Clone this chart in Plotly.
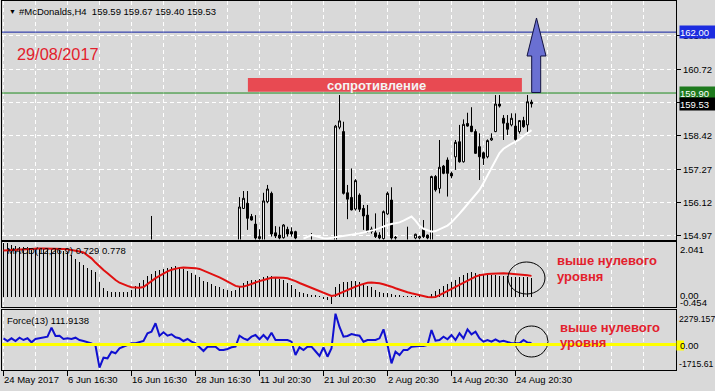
import plotly.graph_objects as go

# ---------------- data ----------------
N_BARS = 133
BAR_IDX = list(range(N_BARS))

TICK_IDX = [0, 16, 32, 48, 64, 80, 96, 112, 128]
TICK_TEXT = ["24 May 2017", "6 Jun 16:30", "16 Jun 16:30", "28 Jun 16:30", "11 Jul 20:30",
             "21 Jul 20:30", "2 Aug 20:30", "14 Aug 20:30", "24 Aug 20:30"]
GRID_IDX = [8, 24, 40, 56, 72, 88, 104, 120, 136, 144, 152, 160, 168]

PRICE_LEVELS = [154.97, 156.12, 157.27, 158.42, 159.57, 160.72, 161.87]
PRICE_LABELS = ["154.97", "156.12", "157.27", "158.42", "", "160.72", "161.87"]

# candles that reach into the visible price window
CANDLE_IDX = [37] + list(range(59, 74)) + [77] + list(range(83, 99)) + [101] + list(range(103, 133))
OPEN = [154.60,
        154.70, 155.92, 156.10, 155.64, 155.38, 154.88, 154.70, 156.15, 156.44, 155.08, 155.00, 154.91, 155.20, 155.12, 155.12,
        154.70,
        154.50, 158.72, 158.57, 156.46, 156.30, 155.90, 156.38, 155.92, 155.69, 155.12, 155.08, 155.00, 154.88, 155.73, 156.21, 154.90,
        154.60,
        154.90, 154.90, 155.20, 155.00, 154.60, 157.02, 156.61, 157.38, 157.59, 157.13, 157.70, 158.22, 157.53, 158.85, 158.76,
        158.57, 158.05, 157.84, 157.70, 158.28, 158.57, 159.52, 159.03, 158.86, 158.80, 158.76, 158.57, 158.95, 158.80, 159.59]
HIGH = [155.66,
        156.31, 156.52, 156.52, 155.73, 155.69, 155.20, 156.46, 156.73, 156.50, 155.31, 155.29, 155.38, 155.29, 155.27, 155.15,
        155.07,
        158.80, 159.83, 158.91, 156.73, 157.30, 156.93, 156.44, 156.04, 156.04, 155.29, 155.75, 155.10, 155.85, 156.50, 156.65, 154.97,
        155.29,
        155.05, 154.98, 155.52, 155.02, 157.05, 157.07, 158.28, 157.42, 157.68, 157.19, 158.28, 158.80, 158.99, 159.22, 159.41,
        158.65, 158.51, 157.88, 158.30, 158.51, 159.83, 159.83, 159.14, 159.14, 159.20, 159.20, 158.97, 159.08, 159.83, 159.67]
LOW = [154.40,
       154.60, 155.90, 155.18, 155.50, 154.80, 154.80, 154.60, 156.10, 154.95, 154.90, 154.85, 154.88, 154.95, 154.95, 154.85,
       154.50,
       154.40, 158.65, 156.40, 155.55, 155.85, 155.85, 155.80, 155.18, 155.08, 155.05, 154.90, 154.85, 154.80, 155.70, 154.80, 154.80,
       154.50,
       154.85, 154.85, 154.90, 154.85, 154.50, 156.50, 156.44, 157.10, 156.33, 156.96, 157.25, 157.50, 157.50, 158.74, 158.55,
       157.80, 156.90, 157.42, 157.65, 158.25, 158.55, 159.40, 158.28, 158.45, 158.75, 158.22, 158.50, 158.70, 158.51, 159.40]
CLOSE = [154.70,
         155.97, 156.27, 155.58, 155.52, 154.90, 154.95, 156.18, 156.59, 155.04, 154.97, 154.90, 155.35, 155.04, 155.04, 154.90,
         154.60,
         158.76, 158.94, 156.44, 156.24, 155.87, 156.88, 155.89, 155.66, 155.12, 155.21, 154.95, 154.90, 155.81, 156.44, 154.90, 154.92,
         154.70,
         155.03, 154.95, 154.95, 154.90, 157.02, 156.56, 157.34, 157.13, 157.13, 157.04, 158.20, 157.53, 158.82, 158.76, 158.57,
         157.82, 157.70, 157.65, 158.26, 158.34, 159.52, 159.45, 158.86, 158.65, 159.03, 158.30, 158.95, 158.74, 159.60, 159.53]

# white moving average (visible part only)
MA = [None] * 75 + [
    154.88, 154.95, 155.00, 154.97, 154.92, 154.89, 154.88, 154.90, 154.93, 154.95,
    154.97, 154.99, 155.01, 155.03, 155.06, 155.09, 155.12, 155.15, 155.19, 155.24,
    155.30, 155.35, 155.38, 155.41, 155.44, 155.50, 155.57, 155.64, 155.50, 155.32,
    155.22, 155.16, 155.12, 155.14, 155.20, 155.26, 155.33, 155.44, 155.58, 155.74,
    155.90, 156.06, 156.22, 156.38, 156.56, 156.80, 157.06, 157.32, 157.62, 157.83,
    157.98, 158.08, 158.15, 158.22, 158.30, 158.42, 158.52, 158.62]

MACD_MAIN = [
    2.041, 2.02, 1.98, 1.94, 1.90, 1.88, 1.87, 1.86, 1.86, 1.85,
    1.84, 1.83, 1.86, 1.84, 1.80, 1.75, 1.68, 1.58, 1.45, 1.31,
    1.20, 1.10, 1.00, 0.94, 0.55, 0.35, 0.24, 0.20, 0.18, 0.17,
    0.18, 0.20, 0.28, 0.40, 0.52, 0.64, 0.78, 0.88, 0.98, 1.03,
    1.07, 1.11, 1.14, 1.16, 1.13, 1.05, 0.98, 0.91, 0.83, 0.75,
    0.62, 0.56, 0.50, 0.43, 0.36, 0.31, 0.27, 0.22, 0.25, 0.40,
    0.52, 0.60, 0.63, 0.66, 0.69, 0.76, 0.81, 0.80, 0.74, 0.69,
    0.64, 0.52, 0.45, 0.32, 0.20, 0.14, 0.10, 0.08, 0.06, 0.02,
    -0.05, -0.13, -0.28, 0.37, 0.50, 0.56, 0.58, 0.60, 0.60, 0.57,
    0.52, 0.42, 0.36, 0.27, 0.20, 0.15, 0.14, 0.10, 0.07, 0.05,
    0.03, 0.02, 0.02, 0.01, 0.01, 0.01, 0.02, 0.12, 0.22, 0.32,
    0.42, 0.50, 0.58, 0.66, 0.75, 0.84, 0.90, 0.93, 0.90, 0.87,
    0.86, 0.85, 0.83, 0.83, 0.81, 0.80, 0.78, 0.77, 0.76, 0.75,
    0.74, 0.74, 0.729]
MACD_SIGNAL = [
    1.74, 1.75, 1.76, 1.77, 1.78, 1.79, 1.80, 1.81, 1.81, 1.81,
    1.81, 1.81, 1.81, 1.81, 1.80, 1.79, 1.78, 1.76, 1.73, 1.70,
    1.66, 1.56, 1.44, 1.28, 1.12, 1.00, 0.88, 0.74, 0.62, 0.52,
    0.45, 0.40, 0.35, 0.33, 0.33, 0.36, 0.48, 0.58, 0.69, 0.78,
    0.88, 0.95, 1.01, 1.05, 1.08, 1.09, 1.09, 1.08, 1.07, 1.04,
    0.98, 0.93, 0.87, 0.80, 0.72, 0.65, 0.57, 0.47, 0.40, 0.37,
    0.38, 0.42, 0.48, 0.53, 0.58, 0.62, 0.67, 0.71, 0.72, 0.72,
    0.71, 0.69, 0.64, 0.58, 0.51, 0.45, 0.39, 0.33, 0.27, 0.21,
    0.14, 0.08, 0.02, 0.05, 0.12, 0.18, 0.24, 0.30, 0.37, 0.43,
    0.48, 0.52, 0.53, 0.52, 0.50, 0.46, 0.42, 0.37, 0.31, 0.25,
    0.20, 0.16, 0.12, 0.08, 0.05, 0.01, -0.02, -0.03, -0.02, 0.05,
    0.13, 0.20, 0.28, 0.35, 0.43, 0.52, 0.61, 0.69, 0.75, 0.80,
    0.83, 0.85, 0.86, 0.87, 0.88, 0.88, 0.87, 0.86, 0.85, 0.83,
    0.81, 0.80, 0.778]

FORCE = [
    459, 259, 459, 259, 503, 333, 459, 163, 407, 459,
    530, 577, 1243, 629, 651, 407, 459, 407, 503, 333,
    259, 163, 89, -89, -1715.61, -975, -1021, -533, -651, -281,
    -163, -37, 89, 89, 163, 259, 829, 947, 1569, 651,
    903, 651, 755, 530, 459, 259, 407, 210, 89, -163,
    -481, -163, -163, -163, -407, -407, -330, -210, -163, 651,
    459, 333, 577, 703, 385, 703, 385, 873, 333, 333,
    333, 333, 207, -777, -207, -407, -163, -163, -500, -851,
    -207, -903, -281, 2279.157, 1300, 577, 629, 777, 703, 651,
    207, 333, 333, 333, 459, 1125, -37, -1391, -533, -777,
    -407, -407, -163, -111, -111, -111, -37, 1073, 281, 333,
    577, 385, 703, 333, 829, 459, 1125, 755, 947, 459,
    207, 333, 207, 385, 207, 281, 207, 89, 89, 89,
    333, 140, 111.9138]

# drawn objects (in chart coordinates)
RESIST_LEVEL = 159.90
TARGET_LEVEL = 162.00
LAST_PRICE = 159.53
RESIST_BOX_X = (61.1, 129.6)
RESIST_BOX_Y = (159.94, 160.42)

# ---------------- style ----------------
BG = "#d9d9d9"
FONT = "Liberation Sans, Arial, sans-serif"
RED_TXT = "#e3202c"
GRID = dict(showgrid=True, gridcolor="white", gridwidth=1, griddash="4px,3px")

W, H = 715, 391
ML, MR, MT, MB = 2, 39, 1, 21
PW, PH = W - ML - MR, H - MT - MB


def PX(x):
    return (x - ML) / PW


def PY(y):
    return (H - MB - y) / PH


fig = go.Figure()

fig.add_trace(go.Candlestick(
    x=CANDLE_IDX, open=OPEN, high=HIGH, low=LOW, close=CLOSE,
    xaxis="x", yaxis="y", whiskerwidth=0, hoverinfo="skip",
    increasing=dict(line=dict(color="black", width=1), fillcolor="white"),
    decreasing=dict(line=dict(color="black", width=1), fillcolor="black")))
fig.add_trace(go.Scatter(x=BAR_IDX, y=MA, mode="lines", xaxis="x", yaxis="y",
                         line=dict(color="white", width=2), hoverinfo="skip"))
fig.add_trace(go.Bar(x=BAR_IDX, y=MACD_MAIN, width=0.25, xaxis="x2", yaxis="y2",
                     marker=dict(color="black", line=dict(width=0)), hoverinfo="skip"))
fig.add_trace(go.Scatter(x=BAR_IDX, y=MACD_SIGNAL, mode="lines", xaxis="x2", yaxis="y2",
                         line=dict(color="#e01010", width=2), hoverinfo="skip"))
fig.add_trace(go.Scatter(x=BAR_IDX, y=FORCE, mode="lines", xaxis="x3", yaxis="y3",
                         line=dict(color="#1010d0", width=2), hoverinfo="skip"))

XR = [-0.375, 168.125]


def xaxis(anchor, ticks=""):
    return dict(range=XR, anchor=anchor, domain=[0, 1], showline=True, linecolor="black", linewidth=1,
                mirror=True, tickmode="array", tickvals=TICK_IDX, showticklabels=False, ticks=ticks,
                ticklen=5, tickcolor="black", zeroline=False, fixedrange=True,
                minor=dict(tickmode="array", tickvals=GRID_IDX, ticks="", **GRID), **GRID)


def yaxis(anchor, dom, rng):
    return dict(anchor=anchor, domain=dom, range=rng, showline=True, linecolor="black", linewidth=1,
                mirror=True, showgrid=False, zeroline=False, showticklabels=False, ticks="", fixedrange=True)


main_dom = [PY(239.5), 1]
macd_dom = [PY(306.7), PY(241.5)]
force_dom = [0, PY(310)]

ya = yaxis("x", main_dom, [154.849, 163.073])
ya.update(side="right", tickmode="array", tickvals=PRICE_LEVELS,
          ticktext=PRICE_LABELS, showticklabels=True, ticks="outside",
          ticklen=4, tickcolor="black", tickfont=dict(family=FONT, size=9.5, color="black"), **GRID)

fig.update_layout(
    width=W, height=H, margin=dict(l=ML, r=MR, t=MT, b=MB, pad=0),
    paper_bgcolor=BG, plot_bgcolor=BG, showlegend=False, bargap=0,
    xaxis=dict(xaxis("y"), rangeslider=dict(visible=False)),
    xaxis2=xaxis("y2"),
    xaxis3=xaxis("y3", ticks="outside"),
    yaxis=ya,
    yaxis2=yaxis("x2", macd_dom, [-0.385, 2.075]),
    yaxis3=yaxis("x3", force_dom, [-1887, 2553]),
)


def txt(x, y, s, size=9.5, color="black", xanchor="left", **kw):
    return dict(x=PX(x), y=PY(y), xref="paper", yref="paper", text=s, showarrow=False,
                xanchor=xanchor, yanchor="middle", font=dict(family=FONT, size=size, color=color), **kw)


ann = []
ann.append(txt(7, 11, "▼", size=7))
ann.append(txt(17, 11.5, "#McDonalds,H4\u00a0 159.59 159.67 159.40 159.53"))
ann.append(txt(14.5, 54, "29/08/2017", size=16.3, color=RED_TXT))
ann.append(txt(376.7, 85.3, "<b>сопротивление</b>", size=13, color="#f4f4f4", xanchor="center"))
ann.append(txt(5, 250, "MACD(12,26,9) 0.729 0.778"))
ann.append(txt(5, 320.5, "Force(13) 111.9138"))
ann.append(txt(555, 260.5, "<b>выше нулевого</b>", size=13, color=RED_TXT))
ann.append(txt(555, 276.5, "<b>уровня</b>", size=13, color=RED_TXT))
ann.append(txt(558, 327, "<b>выше нулевого</b>", size=13, color=RED_TXT))
ann.append(txt(558, 342.5, "<b>уровня</b>", size=13, color=RED_TXT))
# right axis labels of indicator windows
ann.append(txt(678, 249, "2.041"))
ann.append(txt(678, 295.5, "0.00"))
ann.append(txt(678, 302.5, "-0.454"))
ann.append(txt(676.5, 318.5, "2279.157", size=8.7))
ann.append(txt(678, 345.5, "0.00"))
ann.append(txt(676.5, 364, "-1715.61", size=8.7))
# price boxes on the right scale
for level, bg in [(TARGET_LEVEL, "#1c2ce0"), (RESIST_LEVEL, "#1e7a1e"), (LAST_PRICE, "#000000")]:
    ann.append(dict(x=PX(678.5), xref="paper", y=level, yref="y", text="%.2f" % level, showarrow=False,
                    xanchor="left", yanchor="middle", width=35, height=12, align="left", borderpad=0,
                    bgcolor=bg, font=dict(family=FONT, size=9.5, color="white")))
# time labels
for i, s in zip(TICK_IDX, TICK_TEXT):
    ann.append(dict(x=i, xref="x3", y=PY(379.5), yref="paper", text=s, showarrow=False,
                    xanchor="left", yanchor="middle", xshift=-2,
                    font=dict(family=FONT, size=9.5, color="black")))

fig.update_layout(annotations=ann)


def px2i(x):
    return (x - 3.5) / 4.0


def py2p(y):
    return 154.97 + (236 - y) / 29.0


arrow_pts = [(531.7, 92.5), (531.7, 56), (527, 56), (536.5, 18), (546, 56), (540.7, 56), (540.7, 92.5)]
arrow_path = "M " + " L ".join("%.3f,%.4f" % (px2i(x), py2p(y)) for x, y in arrow_pts) + " Z"

shapes = [
    dict(type="line", xref="paper", x0=0, x1=1, yref="y", y0=TARGET_LEVEL, y1=TARGET_LEVEL,
         line=dict(color="#1020a0", width=1), layer="above"),
    dict(type="line", xref="paper", x0=0, x1=1, yref="y", y0=RESIST_LEVEL, y1=RESIST_LEVEL,
         line=dict(color="#1e8a1e", width=1), layer="above"),
    dict(type="rect", xref="x", yref="y", x0=RESIST_BOX_X[0], x1=RESIST_BOX_X[1],
         y0=RESIST_BOX_Y[0], y1=RESIST_BOX_Y[1], fillcolor="#e84a52", line=dict(width=0), layer="above"),
    dict(type="path", xref="x", yref="y", path=arrow_path, fillcolor="#6a70d2",
         line=dict(color="#101040", width=1), layer="above"),
    dict(type="circle", xref="x2", yref="y2", x0=px2i(508), x1=px2i(545),
         y0=(296.5 - 294) / 26.5, y1=(296.5 - 262) / 26.5, line=dict(color="black", width=1), layer="above"),
    dict(type="circle", xref="x3", yref="y3", x0=px2i(515), x1=px2i(548),
         y0=(344.5 - 357) * 74, y1=(344.5 - 326) * 74, line=dict(color="black", width=1), layer="above"),
    dict(type="line", xref="paper", x0=0, x1=1, yref="y3", y0=0, y1=0,
         line=dict(color="#ffff00", width=3), layer="above"),
    dict(type="rect", xref="paper", yref="paper", x0=PX(676.5), x1=PX(684), y0=PY(350.5), y1=PY(340.5),
         fillcolor="#ffff00", line=dict(width=0)),
]
fig.update_layout(shapes=shapes)

fig.write_html("out.html")
